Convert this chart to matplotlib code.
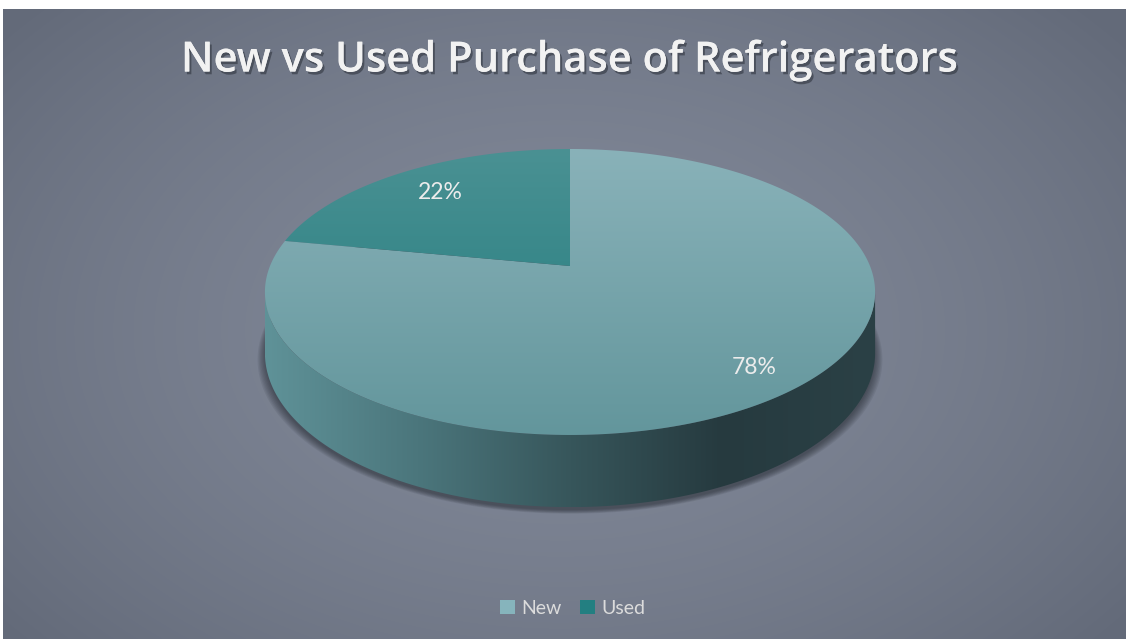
import numpy as np
import matplotlib.pyplot as plt
import matplotlib.patheffects as pe
from matplotlib.patches import Polygon, Patch
from matplotlib.colors import LinearSegmentedColormap, to_rgb

W, H = 1128, 639

title = "New vs Used Purchase of Refrigerators"
labels = ["New", "Used"]
values = [78, 22]

top_colors = [("#89b2b9", "#63969c"), ("#4a9193", "#1e7a7c")]
legend_colors = ["#86b4bc", "#237f81"]
side_colors = ["#5f9298", "#4b767c", "#37565b", "#263a3f", "#2b4146"]
label_r = [0.85, 0.75]

# pie geometry in pixels (perspective view of a flat disc)
cx, apex_y = 570, 266
rx = 300
persp = 0.1818
ry_num = 89.9
depth = 59


def project(u, v):
    w = 1 + persp * v
    return cx + rx * u / w, (apex_y - ry_num * v) / w


def grad_fill(ax, patch, colors, extent, vertical=True, z=2):
    cmap = LinearSegmentedColormap.from_list("g", colors)
    g = np.linspace(0, 1, 256)
    g = g.reshape(-1, 1) if vertical else g.reshape(1, -1)
    im = ax.imshow(g, cmap=cmap, extent=extent, aspect="auto",
                   origin="upper", zorder=z, interpolation="bilinear")
    im.set_clip_path(patch)


plt.rcParams["font.family"] = ["Lato", "DejaVu Sans"]
fig = plt.figure(figsize=(W / 100, H / 100), dpi=100, facecolor="white")
ax = fig.add_axes([0, 0, 1, 1])
ax.set_axis_off()

# background radial gradient
yy, xx = np.mgrid[0:H - 9, 0:W - 5]
d = np.sqrt(((xx + 3 - 560) / 720.0) ** 2 + ((yy + 9 - 330) / 480.0) ** 2)
d = np.clip(d, 0, 1) ** 1.6
c_in = np.array(to_rgb("#818898"))
c_out = np.array(to_rgb("#636a79"))
bg = c_in[None, None, :] * (1 - d[..., None]) + c_out[None, None, :] * d[..., None]
ax.imshow(bg, extent=(3, W - 2, H, 9), aspect="auto", zorder=0)

# shadow under the disc
t_all = np.linspace(0, 2 * np.pi, 400)
bx, by = project(np.cos(t_all), np.sin(t_all))
by = by + depth / (1 + persp * np.sin(t_all))
for k in range(7):
    sx = cx + (bx - cx) * (1 + k * 0.004)
    sy = by + 3 + k * 0.6
    ax.add_patch(Polygon(np.column_stack([sx, sy]), closed=True,
                         facecolor="#1c2128", edgecolor="none",
                         alpha=0.09, zorder=1))

# side wall (front half)
a = np.arcsin(persp)
t = np.linspace(np.pi + a, 2 * np.pi - a, 300)
tx, ty = project(np.cos(t), np.sin(t))
dy = depth / (1 + persp * np.sin(t))
side = np.vstack([np.column_stack([tx, ty]),
                  np.column_stack([tx, ty + dy])[::-1]])
side_patch = Polygon(side, closed=True, facecolor="none", edgecolor="none")
ax.add_patch(side_patch)
grad_fill(ax, side_patch, side_colors,
          (tx.min(), tx.max(), (ty + dy).max(), ty.min()), vertical=False, z=2)

# top face wedges, clockwise from 12 o'clock
total = float(sum(values))
start = 90.0
top_y, bot_y = project(0, 1)[1], project(0, -1)[1]
for i, val in enumerate(values):
    sweep = 360.0 * val / total
    ang = np.radians(np.linspace(start, start - sweep, 300))
    px, py = project(np.cos(ang), np.sin(ang))
    pts = np.vstack([[project(0, 0)], np.column_stack([px, py])])
    wedge = Polygon(pts, closed=True, facecolor="none", edgecolor="none")
    ax.add_patch(wedge)
    grad_fill(ax, wedge, top_colors[i], (cx - 320, cx + 320, bot_y, top_y), z=3)

    mid = np.radians(start - sweep / 2)
    lx, ly = project(label_r[i] * np.cos(mid), label_r[i] * np.sin(mid))
    ax.text(lx, ly + 5, f"{val}%", ha="center", va="baseline", fontsize=16.5,
            color="#ececec", zorder=5)
    start -= sweep

ax.set_xlim(0, W)
ax.set_ylim(H, 0)

# title
ax.text(569, 71.5, title, ha="center", va="baseline", fontsize=30,
        fontweight="semibold", color="#f2f2f2", zorder=6, family="Open Sans",
        path_effects=[pe.withSimplePatchShadow(offset=(1.5, -2),
                                               shadow_rgbFace="#2a2f38",
                                               alpha=0.55),
                      pe.Normal()])

# legend
handles = [Patch(facecolor=c, edgecolor="none") for c in legend_colors]
ax.legend(handles, labels, loc="center", bbox_to_anchor=(573 / W, 1 - 608 / H),
          ncol=2, frameon=False, fontsize=14, labelcolor="#dcdcdc",
          handlelength=0.75, handleheight=0.75, handletextpad=0.35,
          columnspacing=0.95)

fig.savefig("out.png", dpi=100, facecolor="white")
